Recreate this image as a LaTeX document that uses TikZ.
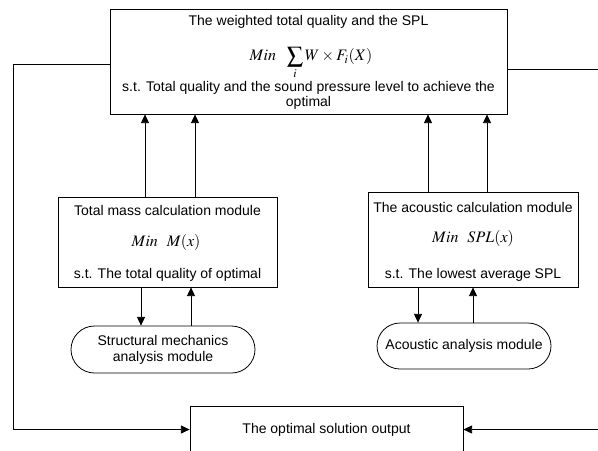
\documentclass[tikz,border=0pt]{standalone}
\usepackage{amssymb,amsmath}
\usepackage{mathptmx}
\usepackage[no-math]{fontspec}
\setmainfont{Liberation Sans}
\usetikzlibrary{arrows.meta,shapes.misc}

\begin{document}
\begin{tikzpicture}[x=.75pt,y=-.75pt,line width=.6pt,
  box/.style={draw,rectangle,inner sep=0pt},
  pill/.style={draw,rounded rectangle,inner sep=0pt,align=center,
    font=\fontsize{10.5}{12}\selectfont},
  txt/.style={inner sep=0pt,align=center,font=\fontsize{10.5}{11.25}\selectfont},
  eq/.style={inner sep=0pt,font=\fontsize{12}{14}\selectfont},
  arr/.style={-{Triangle[length=6.5pt,width=6pt]}}]
  \useasboundingbox (0,0) rectangle (598,450);
  \clip (0,0) rectangle (598,450);

  % objective on top
  \node[box,minimum width=297.75pt,minimum height=78.75pt] (goal) at (308.5,61.5) {};
  \node[txt] (goalT) at (308.5,22) {The weighted total quality and the SPL};
  \node[eq] (goalF) at (311,63) {$\displaystyle Min\ \ \sum_i W\times F_i(X)$};
  \node[txt] (goalS) at (308.5,95.5) {s.t. Total quality and the sound pressure level to achieve the\\optimal};

  % the two modules
  \node[box,minimum width=164.25pt,minimum height=67.5pt] (mass) at (167.5,242) {};
  \node[txt] (massT) at (167.5,210) {Total mass calculation module};
  \node[eq] (massF) at (166,242) {$Min\ \ M(x)$};
  \node[txt] (massS) at (167.5,275) {s.t. The total quality of optimal};

  \node[box,minimum width=157.5pt,minimum height=71.25pt] (acou) at (473,239.5) {};
  \node[txt] (acouT) at (473,207) {The acoustic calculation module};
  \node[eq] (acouF) at (473,238) {$Min\ \ SPL(x)$};
  \node[txt] (acouS) at (473,275) {s.t. The lowest average SPL};

  % analysis modules
  \node[pill,minimum width=138pt,minimum height=35.25pt] (struct) at (163,349.5)
    {Structural mechanics\\analysis module};
  \node[pill,minimum width=130.5pt,minimum height=34.5pt] (acan) at (464,346)
    {Acoustic analysis module};

  % output
  \node[box,minimum width=204.75pt,minimum height=35.25pt,
    font=\fontsize{10.5}{12}\selectfont] (out) at (326.5,429.5) {The optimal solution output};

  % module -> objective
  \coordinate (m1) at (145,0);
  \coordinate (m2) at (195,0);
  \coordinate (a1) at (428,0);
  \coordinate (a2) at (487,0);
  \draw[arr] (m1 |- mass.north) -- (m1 |- goal.south);
  \draw[arr] (m2 |- mass.north) -- (m2 |- goal.south);
  \draw[arr] (a1 |- acou.north) -- (a1 |- goal.south);
  \draw[arr] (a2 |- acou.north) -- (a2 |- goal.south);

  % module <-> analysis
  \coordinate (s1) at (141,0);
  \coordinate (s2) at (191,0);
  \coordinate (c1) at (418,0);
  \coordinate (c2) at (473,0);
  \draw[arr] (s1 |- mass.south) -- (s1 |- struct.north);
  \draw[arr] (s2 |- struct.north) -- (s2 |- mass.south);
  \draw[arr] (c1 |- acou.south) -- (c1 |- acan.north);
  \draw[arr] (c2 |- acan.north) -- (c2 |- acou.south);

  % feedback to the output
  \coordinate (fbL) at (13,64);
  \coordinate (fbR) at (610,69);
  \draw[arr] (goal.west |- fbL) -- (fbL) -- (fbL |- out) -- (out);
  \draw[arr] (goal.east |- fbR) -- (fbR) -- (fbR |- out) -- (out);
\end{tikzpicture}
\end{document}
